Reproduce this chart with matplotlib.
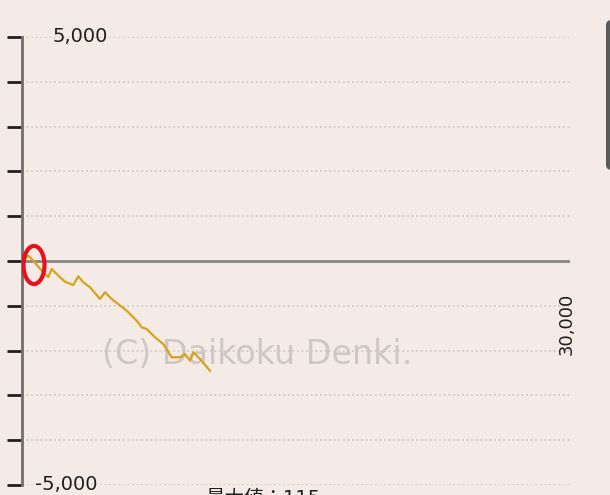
import matplotlib.pyplot as plt
from matplotlib.patches import Ellipse, FancyBboxPatch
import numpy as np

plt.rcParams['font.family'] = ['DejaVu Sans', 'Noto Sans CJK JP']

# games played vs. medal difference
games = [0, 345, 619, 1078, 1440, 1626, 1987, 2354, 2808, 3082, 3356, 3723,
         4270, 4544, 4911, 5732, 6279, 6553, 6827, 7281, 7735, 8195, 8650,
         8923, 9197, 9380, 9745, 10292]
diff = [0, 118, 7, -217, -357, -179, -328, -462, -536, -342, -475, -587,
        -848, -699, -848, -1109, -1333, -1480, -1518, -1703, -1853, -2150,
        -2150, -2076, -2225, -2038, -2188, -2449]

y_ticks = np.arange(-5000, 5001, 1000)
bg = '#f4ebe6'

fig = plt.figure(figsize=(6.1, 4.95), dpi=100, facecolor=bg)
ax = fig.add_axes([22 / 610, 10 / 495, 548 / 610, 448 / 495], facecolor=bg)
ax.set_xlim(0, 30000)
ax.set_ylim(-5000, 5000)

# dotted grid + solid zero line
for v in y_ticks:
    if v == 0:
        ax.axhline(0, color='#858585', lw=2, zorder=2)
    else:
        ax.axhline(v, color='#cdc5c1', lw=1.1, ls=(0, (1.2, 1.8)), zorder=1)

ax.text(0.43, 0.292, '(C) Daikoku Denki.', transform=ax.transAxes, fontsize=24,
        color='#cec7c3', ha='center', va='center', zorder=2)

ax.plot(games, diff, color='#d6a31a', lw=1.6, zorder=3)

for s in ['top', 'right', 'bottom']:
    ax.spines[s].set_visible(False)
ax.spines['left'].set_color('#707070')
ax.spines['left'].set_linewidth(2)
ax.set_yticks(y_ticks)
ax.set_yticklabels([])
ax.set_xticks([])
ax.tick_params(axis='y', length=11, width=2, color='#202020', direction='out')

ytr = ax.get_yaxis_transform()
ax.text(30 / 548, 5000, '5,000', transform=ytr, fontsize=14,
        color='#1e1e1e', ha='left', va='center')
ax.text(13 / 548, -5000, '-5,000', transform=ytr, fontsize=14,
        color='#1e1e1e', ha='left', va='center')
ax.text(29800, -1400, '30,000', rotation=90, fontsize=13,
        color='#1e1e1e', ha='center', va='center', clip_on=False)

# red marker around the start point
ax.add_patch(Ellipse((657, -89), width=1150, height=850,
                     fill=False, edgecolor='#e8101c', lw=3, zorder=4))

# partially visible panel on the right edge and text at the bottom
fig.patches.append(FancyBboxPatch((606 / 610, 325 / 495), 20 / 610, 150 / 495,
                                  boxstyle='round,pad=0,rounding_size=0.01',
                                  transform=fig.transFigure,
                                  facecolor='#5a5a5a', edgecolor='none'))
fig.text(205 / 610, 6 / 495, '最大値：115', fontsize=14,
         color='#1e1e1e', ha='left', va='top',
         family=['DejaVu Sans', 'Noto Sans CJK JP'])

fig.savefig('out.png', dpi=100, facecolor=bg)
